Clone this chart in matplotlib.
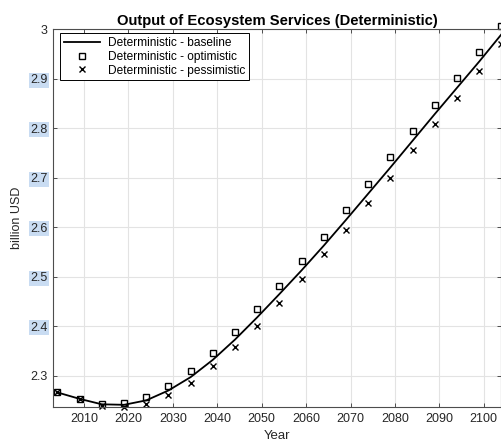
import numpy as np
import matplotlib
matplotlib.use('Agg')
import matplotlib.pyplot as plt

plt.rcParams['font.family'] = ['Liberation Sans', 'DejaVu Sans']

years = np.arange(2004, 2105, 5)
baseline = [2.266, 2.253, 2.242, 2.241, 2.250, 2.270, 2.297, 2.332, 2.373, 2.418, 2.465,
            2.513, 2.563, 2.615, 2.668, 2.721, 2.775, 2.829, 2.882, 2.935, 2.990]
optimistic = [2.266, 2.253, 2.243, 2.244, 2.256, 2.279, 2.309, 2.346, 2.389, 2.434, 2.482,
              2.531, 2.581, 2.634, 2.687, 2.741, 2.795, 2.848, 2.901, 2.954, 3.007]
pessimistic = [2.266, 2.252, 2.239, 2.236, 2.243, 2.261, 2.285, 2.319, 2.358, 2.401, 2.447,
               2.495, 2.545, 2.595, 2.648, 2.700, 2.756, 2.809, 2.862, 2.916, 2.970]
xticks = np.arange(2010, 2101, 10)
yticks = [2.3, 2.4, 2.5, 2.6, 2.7, 2.8, 2.9, 3.0]
highlighted = ['2.4', '2.5', '2.6', '2.7', '2.8', '2.9']

axcol = '#4d4d4d'
fig = plt.figure(figsize=(5.02, 4.44), dpi=100)
ax = fig.add_axes([0.1056, 0.0827, 0.8934, 0.8513])

ax.plot(years, baseline, '-', c='black', lw=1.3, label='Deterministic - baseline')
ax.plot(years, optimistic, 's', mfc='none', mec='black', ms=4.5, mew=1.0,
        label='Deterministic - optimistic', clip_on=False)
ax.plot(years, pessimistic, 'x', c='black', ms=4.0, mew=1.0,
        label='Deterministic - pessimistic', clip_on=False)

ax.set_xlim(2003, 2104)
ax.set_ylim(2.236, 3.0)
ax.set_xticks(xticks)
ax.set_yticks(yticks)
ax.set_yticklabels(['2.3', '2.4', '2.5', '2.6', '2.7', '2.8', '2.9', '3'])
ax.grid(True, color='#e3e3e3', lw=0.8)
ax.set_axisbelow(True)
ax.tick_params(direction='in', top=True, right=True, length=3, width=0.7,
               colors=axcol, labelsize=9, labelcolor='#262626', pad=4)
for s in ax.spines.values():
    s.set_color(axcol)
    s.set_linewidth(0.8)

# some y tick labels are highlighted in the original
for lab in ax.get_yticklabels():
    if lab.get_text() in highlighted:
        lab.set_bbox(dict(boxstyle='square,pad=0.12', fc='#c9dcf2', ec='none'))

ax.set_title('Output of Ecosystem Services (Deterministic)', fontsize=10.6, fontweight='bold', pad=3)
ax.set_xlabel('Year', fontsize=9.5, color='#262626', labelpad=4)
ax.set_ylabel('billion USD', fontsize=9, color='#262626', labelpad=5)

leg = ax.legend(loc='upper left', bbox_to_anchor=(0.016, 0.989), borderaxespad=0,
                fontsize=8.6, fancybox=False, framealpha=1, edgecolor='black',
                handlelength=3.0, handletextpad=0.7, labelspacing=0.15, numpoints=1,
                borderpad=0.3)
leg.get_frame().set_linewidth(0.7)

fig.savefig('out.png', dpi=100)
